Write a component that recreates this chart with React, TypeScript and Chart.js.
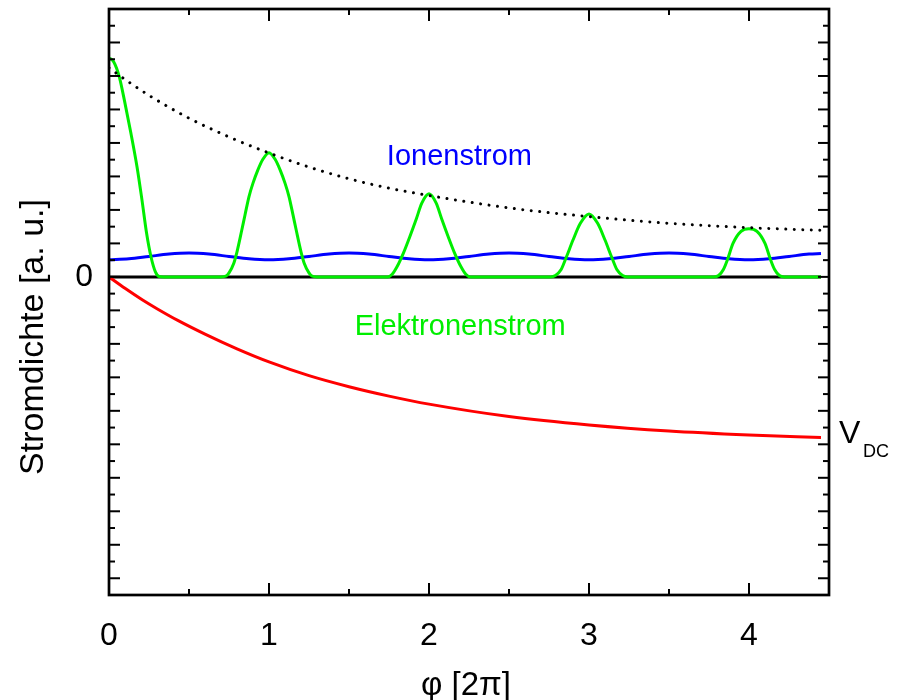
import React, { useEffect, useRef } from 'react';
import { Chart, registerables } from 'chart.js';

Chart.register(...registerables);

// ---- axis ticks ----
const xTickValues = [0, 1, 2, 3, 4];
const xTickLabels = ['0', '1', '2', '3', '4'];
const yTickValues = [0];
const yTickLabels = ['0'];

// ---- series (phase φ [2π], current density [a.u.]) ----
const zeroLine: [number, number][] = [
  [0, 0], [4.45, 0],
];

const vdc: [number, number][] = [
  [0, 0], [0.1, -0.34], [0.21, -0.69], [0.3, -0.95], [0.43, -1.3], [0.6, -1.71],
  [0.8, -2.15], [1.0, -2.54], [1.25, -2.95], [1.5, -3.28], [1.75, -3.56], [2.0, -3.8],
  [2.5, -4.17], [3.0, -4.42], [3.5, -4.6], [4.0, -4.72], [4.45, -4.8],
];

const envelope: [number, number][] = [
  [0, 6.24], [0.12, 5.83], [0.25, 5.42], [0.5, 4.74], [0.75, 4.18], [1.0, 3.7],
  [1.25, 3.28], [1.5, 2.93], [1.75, 2.65], [2.0, 2.43], [2.5, 2.06], [3.0, 1.8],
  [3.5, 1.6], [4.0, 1.47], [4.45, 1.39],
];

const ionCurrent: [number, number][] = [
  [0, 0.51], [0.125, 0.54], [0.25, 0.61], [0.375, 0.68], [0.5, 0.71], [0.625, 0.68], [0.75, 0.61], [0.875, 0.54],
  [1, 0.51], [1.125, 0.54], [1.25, 0.61], [1.375, 0.68], [1.5, 0.71], [1.625, 0.68], [1.75, 0.61], [1.875, 0.54],
  [2, 0.51], [2.125, 0.54], [2.25, 0.61], [2.375, 0.68], [2.5, 0.71], [2.625, 0.68], [2.75, 0.61], [2.875, 0.54],
  [3, 0.51], [3.125, 0.54], [3.25, 0.61], [3.375, 0.68], [3.5, 0.71], [3.625, 0.68], [3.75, 0.61], [3.875, 0.54],
  [4, 0.51], [4.125, 0.54], [4.25, 0.61], [4.375, 0.68], [4.45, 0.7],
];

const electronCurrent: [number, number][] = [
  [0, 6.54], [0.03, 6.42], [0.064, 5.98], [0.096, 5.28], [0.137, 4.29], [0.175, 3.29],
  [0.206, 2.3], [0.235, 1.3], [0.262, 0.61], [0.29, 0.15], [0.314, 0.01], [0.34, 0],
  [0.7, 0], [0.73, 0.02], [0.75, 0.12], [0.78, 0.41], [0.8, 0.75], [0.83, 1.4], [0.85, 1.85],
  [0.875, 2.4], [0.9, 2.8], [0.93, 3.19], [0.96, 3.5], [1.0, 3.71], [1.04, 3.5], [1.07, 3.19],
  [1.1, 2.8], [1.125, 2.4], [1.15, 1.85], [1.17, 1.4], [1.2, 0.75], [1.22, 0.41], [1.25, 0.12],
  [1.27, 0.02], [1.3, 0],
  [1.74, 0], [1.77, 0.08], [1.8, 0.3], [1.84, 0.71], [1.88, 1.2], [1.92, 1.72], [1.955, 2.2],
  [2.0, 2.48], [2.045, 2.2], [2.08, 1.72], [2.12, 1.2], [2.16, 0.71], [2.2, 0.3], [2.23, 0.08],
  [2.26, 0],
  [2.76, 0], [2.79, 0.04], [2.825, 0.21], [2.86, 0.61], [2.9, 1.1], [2.946, 1.6], [3.0, 1.88],
  [3.054, 1.6], [3.1, 1.1], [3.14, 0.61], [3.175, 0.21], [3.21, 0.04], [3.24, 0],
  [3.78, 0], [3.81, 0.04], [3.84, 0.22], [3.865, 0.51], [3.9, 1.0], [3.95, 1.36], [4.0, 1.44],
  [4.05, 1.36], [4.1, 1.0], [4.135, 0.51], [4.16, 0.22], [4.19, 0.04], [4.22, 0], [4.45, 0],
];

const FONT = '"Liberation Sans", Arial, Helvetica, sans-serif';

export default function App() {
  const ref = useRef<HTMLCanvasElement>(null);

  useEffect(() => {
    const canvas = ref.current;
    if (!canvas) return;
    const pts = (a: [number, number][]) => a.map(([x, y]) => ({ x, y }));

    const framePlugin = {
      id: 'frameAndText',
      afterDatasetsDraw(chart: any) {
        const { ctx, chartArea: a, scales } = chart;
        const xs = scales.x;
        const ys = scales.y;
        const seg = (x1: number, y1: number, x2: number, y2: number) => {
          ctx.beginPath();
          ctx.moveTo(x1, y1);
          ctx.lineTo(x2, y2);
          ctx.stroke();
        };
        ctx.save();
        ctx.strokeStyle = '#000';
        ctx.lineWidth = 2;
        ctx.lineCap = 'butt';
        for (let i = 0; i <= 9; i++) {
          const v = i * 0.5;
          const px = xs.getPixelForValue(v);
          const len = i % 2 === 0 ? 12 : 6;
          seg(px, a.bottom, px, a.bottom - len);
          seg(px, a.top, px, a.top + len);
        }
        for (let i = 0; i <= 35; i++) {
          const v = -9.5 + i * 0.5;
          const py = ys.getPixelForValue(v);
          const len = i % 2 === 1 ? 11 : 6;
          seg(a.left, py, a.left + len, py);
          seg(a.right, py, a.right - len, py);
        }
        ctx.lineWidth = 2.7;
        ctx.strokeRect(a.left, a.top, a.right - a.left, a.bottom - a.top);

        ctx.fillStyle = '#000';
        // x tick labels
        ctx.font = `32px ${FONT}`;
        ctx.textAlign = 'center';
        ctx.textBaseline = 'alphabetic';
        xTickValues.forEach((v, i) => {
          ctx.fillText(xTickLabels[i], xs.getPixelForValue(v), a.bottom + 50);
        });
        // y tick labels
        ctx.textAlign = 'right';
        yTickValues.forEach((v, i) => {
          ctx.fillText(yTickLabels[i], a.left - 16, ys.getPixelForValue(v) + 9);
        });
        // axis titles
        ctx.font = `33px ${FONT}`;
        ctx.textAlign = 'center';
        ctx.fillText('φ [2π]', (a.left + a.right) / 2 - 3, 695);
        ctx.save();
        ctx.translate(43, 337);
        ctx.rotate(-Math.PI / 2);
        ctx.font = `34px ${FONT}`;
        ctx.fillText('Stromdichte [a. u.]', 0, 0);
        ctx.restore();
        // annotations
        ctx.font = `29px ${FONT}`;
        ctx.fillStyle = '#0000ff';
        ctx.textBaseline = 'middle';
        ctx.fillText('Ionenstrom', xs.getPixelForValue(2.19), ys.getPixelForValue(3.58));
        ctx.fillStyle = '#00ee00';
        ctx.fillText('Elektronenstrom', xs.getPixelForValue(2.195), ys.getPixelForValue(-1.5));
        // V_DC
        ctx.fillStyle = '#000';
        ctx.textAlign = 'left';
        ctx.textBaseline = 'alphabetic';
        ctx.font = `32px ${FONT}`;
        ctx.fillText('V', a.right + 10, 443);
        ctx.font = `18px ${FONT}`;
        ctx.fillText('DC', a.right + 34, 457);
        ctx.restore();
      },
    };

    const chart = new Chart(canvas, {
      type: 'line',
      data: {
        datasets: [
          {
            label: 'envelope',
            data: pts(envelope),
            borderColor: '#000000',
            borderWidth: 3,
            borderDash: [0.01, 8.5],
            borderCapStyle: 'round',
            cubicInterpolationMode: 'monotone',
            pointRadius: 0,
          },
          {
            label: 'Elektronenstrom',
            data: pts(electronCurrent),
            borderColor: '#00ee00',
            borderWidth: 3,
            cubicInterpolationMode: 'monotone',
            pointRadius: 0,
          },
          {
            label: 'Ionenstrom',
            data: pts(ionCurrent),
            borderColor: '#0000ff',
            borderWidth: 3,
            cubicInterpolationMode: 'monotone',
            pointRadius: 0,
          },
          {
            label: 'V_DC',
            data: pts(vdc),
            borderColor: '#ff0000',
            borderWidth: 3,
            cubicInterpolationMode: 'monotone',
            pointRadius: 0,
          },
          {
            label: 'zero',
            data: pts(zeroLine),
            borderColor: '#000000',
            borderWidth: 3,
            pointRadius: 0,
          },
        ],
      } as any,
      options: {
        animation: false,
        responsive: false,
        maintainAspectRatio: false,
        layout: { padding: { left: 109, right: 73, top: 9, bottom: 105 } },
        scales: {
          x: { type: 'linear', min: 0, max: 4.5, display: false },
          y: { type: 'linear', min: -9.5, max: 8, display: false },
        },
        plugins: { legend: { display: false }, tooltip: { enabled: false } },
      } as any,
      plugins: [framePlugin],
    });
    return () => chart.destroy();
  }, []);

  return (
    <div style={{ position: 'fixed', left: 0, top: 0, width: 902, height: 700, background: '#ffffff' }}>
      <canvas ref={ref} width={902} height={700} style={{ display: 'block', width: 902, height: 700 }} />
    </div>
  );
}
